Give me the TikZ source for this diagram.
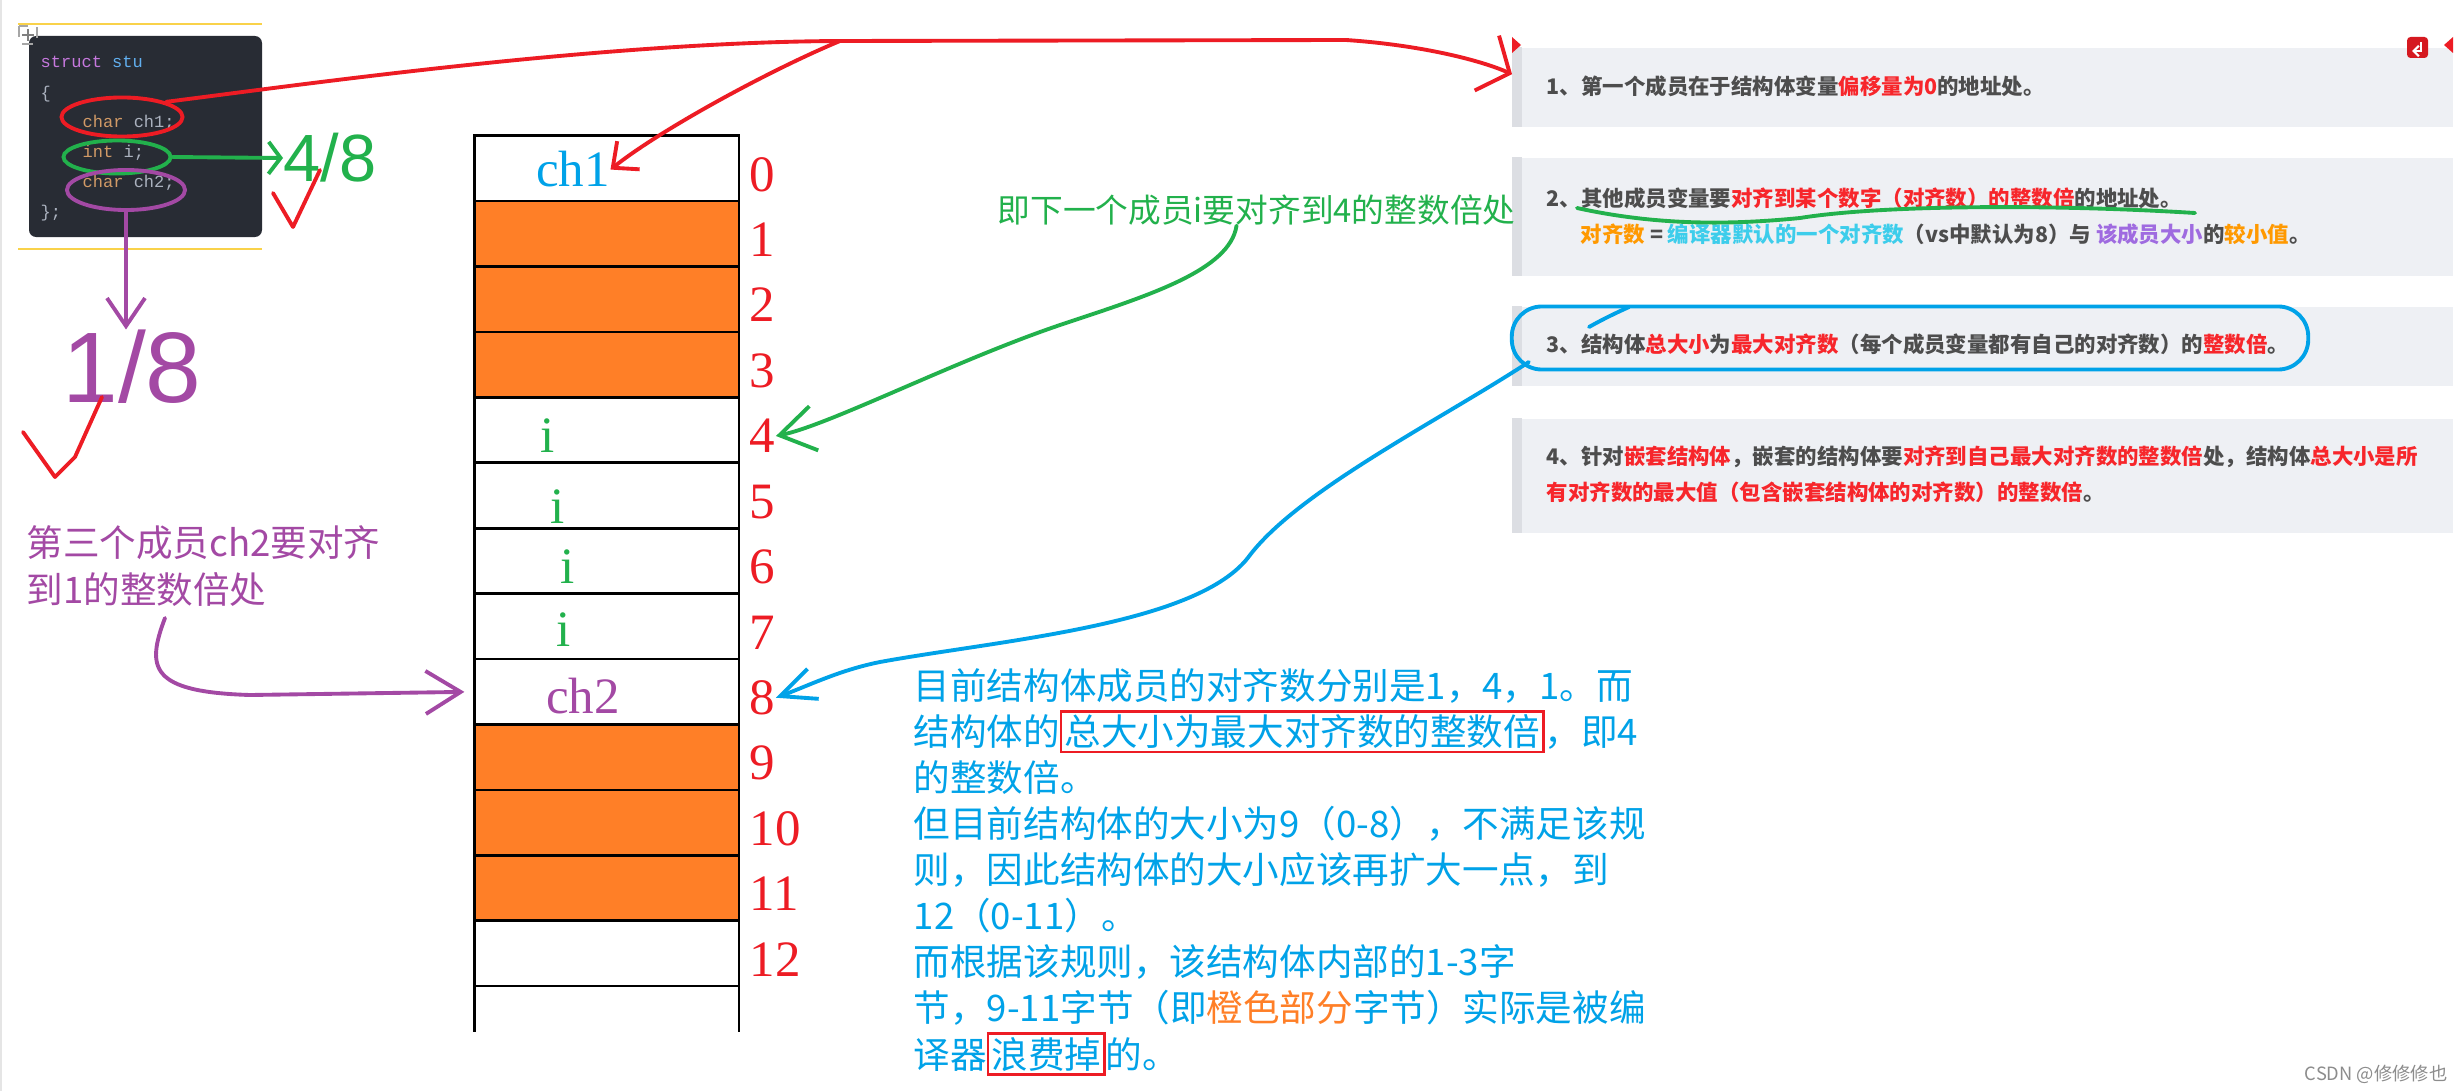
\documentclass[tikz,border=0pt]{standalone}
\usepackage{fontspec}
\setmainfont{Liberation Serif}
\newfontfamily\cjk{Noto Sans CJK SC}
\newfontfamily\codefont{Liberation Mono}
\newfontfamily\handfont{Liberation Sans}
\usepackage{xcolor}
\usetikzlibrary{arrows.meta,positioning,shapes.geometric}

\definecolor{penred}{HTML}{ED1C24}
\definecolor{pengreen}{HTML}{22B14C}
\definecolor{penblue}{HTML}{00A2E8}
\definecolor{penpurple}{HTML}{A349A4}
\definecolor{padorange}{HTML}{FF7F27}
\definecolor{codebg}{HTML}{282C34}
\definecolor{codefg}{HTML}{ABB2BF}
\definecolor{codekey}{HTML}{C678DD}
\definecolor{codetype}{HTML}{61AFEF}
\definecolor{codeword}{HTML}{D19A66}
\definecolor{yellowrule}{HTML}{F9D24A}
\definecolor{notebg}{HTML}{EEF0F4}
\definecolor{notebar}{HTML}{DCDEE3}
\definecolor{notetext}{HTML}{4D4D4D}
\definecolor{notered}{HTML}{F7262B}
\definecolor{noteorange}{HTML}{FF9900}
\definecolor{notecyan}{HTML}{3DCDEB}
\definecolor{notepurple}{HTML}{9F6BE0}

\newcommand{\redframe}[1]{{\fboxsep=0.6pt\fboxrule=0.7pt\fcolorbox{penred}{white}{#1}}}

\begin{document}
\begin{tikzpicture}[
x=0.01cm, y=-0.01cm,
node distance=0pt,
cell/.style={draw, line width=0.77pt, minimum width=2.645cm, minimum height=0.6538cm, inner sep=0pt, outer sep=0pt},
idx/.style={text=penred, font=\fontsize{14.5}{14.5}\selectfont, inner sep=0pt, anchor=base west},
var/.style={font=\fontsize{14.5}{14.5}\selectfont, inner sep=0pt, anchor=base},
pen/.style={line width=1.1pt, line cap=round, line join=round},
tip/.style 2 args={-{Straight Barb[length=#1, width=#2]}},
ring/.style={draw, ellipse, line width=1.1pt, inner sep=0pt},
note/.style={fill=notebg, minimum width=9.4cm, inner sep=0pt, anchor=north west},
item/.style={font=\cjk\bfseries\fontsize{6.1}{10.2}\selectfont, text=notetext, inner sep=0pt, anchor=base west, align=left},
hand/.style={font=\cjk\fontsize{10.4}{13.09}\selectfont, inner sep=0pt, anchor=base west, align=left},
codeline/.style={font=\codefont\fontsize{4.84}{4.84}\selectfont, text=codefg, inner sep=0pt, anchor=base west},
scrawl/.style={font=\handfont\fontsize{#1}{#1}\selectfont, inner sep=0pt}
]
\useasboundingbox (0,0) rectangle (2464,1091);
\fill[white] (0,0) rectangle (2464,1091);
\fill[black!10] (0,0) rectangle (2,1091);

% code snippet
\draw[yellowrule, line width=0.5pt] (18,24) -- (262,24) (18,249) -- (262,249);
\fill[codebg, rounded corners=2pt] (29,36) rectangle (262,237);
\draw[black!35, dashed, line width=0.3pt] (19,26) rectangle (37,44);
\draw[black!50, line width=0.4pt] (28,29) -- (28,41) (22,35) -- (34,35);
\node[codeline] (c0) at (40,68) {\textcolor{codekey}{struct} \textcolor{codetype}{stu}};
\node[codeline] (c1) at (40,99) {\{};
\node[codeline] (c2) at (82,128) {\textcolor{codeword}{char} ch1;};
\node[codeline] (c3) at (82,158) {\textcolor{codeword}{int} i;};
\node[codeline] (c4) at (82,188) {\textcolor{codeword}{char} ch2;};
\node[codeline] (c5) at (40,218) {\};};

\node[ring, draw=penred, minimum width=1.21cm, minimum height=0.39cm] (r1) at (122,117) {};
\node[ring, draw=pengreen, minimum width=1.07cm, minimum height=0.33cm] (r2) at (117,157) {};
\node[ring, draw=penpurple, minimum width=1.18cm, minimum height=0.40cm] (r3) at (126,190) {};

% scribbled sizes
\node[scrawl=19, text=pengreen, anchor=west] (g48) at (283,158) {4/8};
\node[scrawl=28.5, text=penpurple] (p18) at (132,367) {1/8};
\draw[pen, penred] (273,193) -- (293,227) -- (320,170);
\draw[pen, penred] (23,432) -- (55,477) -- (75,457) -- (102,397);

\draw[pen, pengreen, tip={0.12cm}{0.32cm}] (r2.east) -- (g48.west);
\draw[pen, penpurple, tip={0.28cm}{0.38cm}] (r3.south) -- (r3.south |- p18.north);

% memory layout
\node[cell] (m0) at (606.7,168.4) {};
\foreach \k/\f [remember=\k as \j (initially 0)] in {1/padorange, 2/padorange, 3/padorange, 4/white, 5/white, 6/white, 7/white, 8/white, 9/padorange, 10/padorange, 11/padorange, 12/white}
  \node[cell, fill=\f, below=of m\j] (m\k) {};
\draw[line width=0.77pt] (m12.south west) -- ++(0,46) (m12.south east) -- ++(0,46);
\foreach \k in {0,...,12}
  \node[idx] (n\k) at ([xshift=0.1cm, yshift=0.1cm]m\k.south east) {\k};

\node[var, text=penblue] (ch1) at (573,187) {ch1};
\node[var, text=pengreen] (i4) at (548,452) {i};
\node[var, text=pengreen] (i5) at (558,523) {i};
\node[var, text=pengreen] (i6) at (568,583) {i};
\node[var, text=pengreen] (i7) at (564,646) {i};
\node[var, text=penpurple] (ch2) at (583,713) {ch2};

% notes on the right
\node[note, minimum height=0.79cm] (box1) at (1512,47) {};
\node[note, minimum height=1.18cm] (box2) at (1512,157) {};
\node[note, minimum height=0.79cm] (box3) at (1512,306) {};
\node[note, minimum height=1.14cm] (box4) at (1512,418) {};
\foreach \b in {box1,box2,box3,box4}
  \fill[notebar] (\b.north west) rectangle ([xshift=0.1cm]\b.south west);
\fill[penred] (1512,37) -- (1521,45) -- (1512,53) -- cycle;
\fill[penred] (2453,37) -- (2444,45) -- (2453,53) -- cycle;
\fill[penred!90!black, rounded corners=1pt] (2407,37) rectangle (2428,58);
\draw[white, line width=0.6pt, -{Straight Barb[length=1.5pt, width=3pt]}] (2421,42) -- (2421,51) -- (2412,51);

% (multi-line nodes: base = last line)
\node[item] (t1) at (1546,95) {1、第一个成员在于结构体变量\textcolor{notered}{偏移量为0}的地址处。};
\node[item] (t2) at (1546,242) {2、其他成员变量要\textcolor{notered}{对齐到某个数字（对齐数）的整数倍}的地址处。\\
\hspace*{0.34cm}\textcolor{noteorange}{对齐数} = \textcolor{notecyan}{编译器默认的一个对齐数}（vs中默认为8）与 \textcolor{notepurple}{该成员大小}的\textcolor{noteorange}{较小值}。};
\node[item] (t3) at (1546,352) {3、结构体\textcolor{notered}{总大小}为\textcolor{notered}{最大对齐数}（每个成员变量都有自己的对齐数）的\textcolor{notered}{整数倍}。};
\node[item] (t4) at (1546,500) {4、针对\textcolor{notered}{嵌套结构体}，嵌套的结构体要\textcolor{notered}{对齐到自己最大对齐数的整数倍}处，结构体\textcolor{notered}{总大小是所}\\
\textcolor{notered}{有对齐数的最大值（包含嵌套结构体的对齐数）的整数倍}。};

\draw[pen, pengreen] (1577,208) .. controls (1650,224) and (1720,226) .. (1800,218) .. controls (1880,205) and (2050,204) .. (2195,213);
\node[draw=penblue, line width=1.1pt, rounded corners=0.3cm, minimum width=7.96cm, minimum height=0.63cm] (bring) at (1910,338) {};
\draw[pen, penblue] (1589,327) .. controls (1605,318) and (1618,312) .. (1629,307);

% handwritten remarks
\node[hand, text=pengreen, font=\cjk\fontsize{9.3}{9.3}\selectfont] (gt) at (997,222) {即下一个成员i要对齐到4的整数倍处};
\node[hand, text=penpurple] (pt) at (26,603) {第三个成员ch2要对齐\\到1的整数倍处};
\node[hand, text=penblue] (para) at (913,1068) {目前结构体成员的对齐数分别是1，4，1。而\\
结构体的\redframe{总大小为最大对齐数的整数倍}，即4\\
的整数倍。\\
但目前结构体的大小为9（0-8），不满足该规\\
则，因此结构体的大小应该再扩大一点，到\\
12（0-11）。\\
而根据该规则，该结构体内部的1-3字\\
节，9-11字节（即\textcolor{padorange}{橙色部分}字节）实际是被编\\
译器\redframe{浪费掉}的。};

% connectors
\coordinate (fork) at (840,41);
\coordinate (pfrom) at (165,618);
\draw[pen, penred, tip={0.25cm}{0.6cm}] (r1.north east) .. controls (300,85) and (600,42) .. (fork) -- (1346,40) .. controls (1420,45) and (1480,60) .. ([yshift=0.13cm]box1.west);
\draw[pen, penred, tip={0.2cm}{0.36cm}] (fork) .. controls (770,70) and (660,130) .. (ch1.east);
\draw[pen, pengreen, tip={0.35cm}{0.45cm}] ([xshift=-0.2cm]gt.south) .. controls (1230,270) and (1150,295) .. (1066,323) .. controls (960,358) and (830,425) .. (n4.east);
\draw[pen, penblue, tip={0.35cm}{0.32cm}] ([shift={(19,24)}]bring.west) .. controls (1440,420) and (1300,490) .. (1250,555) .. controls (1200,625) and (1000,640) .. (880,662) .. controls (840,670) and (810,685) .. (n8.east);
\draw[pen, penpurple, tip={0.35cm}{0.43cm}, shorten >=0.1cm] (pfrom) .. controls (146,668) and (150,692) .. (250,695) -- (m8.west);

\node[font=\cjk\fontsize{5.2}{5.2}\selectfont, text=black!45, anchor=base east, inner sep=0pt] (mark) at (2448,1080) {CSDN @修修修也};
\end{tikzpicture}
\end{document}
